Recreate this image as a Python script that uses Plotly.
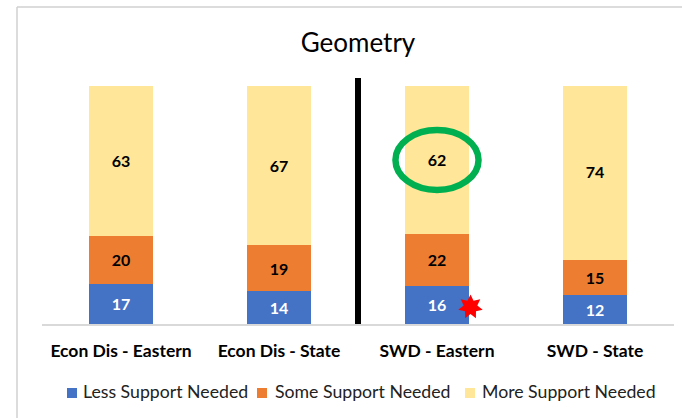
import numpy as np
import plotly.graph_objects as go

categories = ["Econ Dis - Eastern", "Econ Dis - State", "SWD - Eastern", "SWD - State"]
less_support = [17, 14, 16, 12]
some_support = [20, 19, 22, 15]
more_support = [63, 67, 62, 74]

series_names = ["Less Support Needed", "Some Support Needed", "More Support Needed"]
series_colors = ["#4472C4", "#ED7D31", "#FFE699"]
label_colors = ["white", "black", "black"]
series_values = [less_support, some_support, more_support]

FONT = "Lato"

# plot-area pixel geometry (for decorations only)
PL, PB, PW, PH = 42.0, 324.0, 632.0, 238.0


def px2paper(x, y):
    return (x - PL) / PW, (PB - y) / PH


fig = go.Figure()
for name, vals, color, tcolor in zip(series_names, series_values, series_colors, label_colors):
    fig.add_trace(go.Bar(
        x=categories, y=vals, name=name,
        marker=dict(color=color, line=dict(width=0)),
        width=0.4,
        text=vals, textposition="inside", insidetextanchor="middle",
        textangle=0,
        textfont=dict(family=FONT, size=16, color=tcolor, weight="bold"),
        showlegend=False,
        hoverinfo="skip",
    ))

# 7-pointed star decoration
scx, scy = px2paper(470.5, 307)
ro, ri = 12.5, 7.0
pts = []
for k in range(14):
    ang = np.pi / 2 + k * np.pi / 7
    r = ro if k % 2 == 0 else ri
    pts.append((scx + r * np.cos(ang) / PW, scy + r * np.sin(ang) / PH))
star_path = "M " + " L ".join(f"{x:.5f},{y:.5f}" for x, y in pts) + " Z"

fx, fy = px2paper(17, 7)
shapes = [
    dict(type="line", xref="paper", yref="paper", x0=fx, x1=1.2, y0=fy, y1=fy,
         line=dict(color="#D0D0D0", width=1.5)),
    dict(type="line", xref="paper", yref="paper", x0=fx, x1=fx, y0=fy, y1=-0.6,
         line=dict(color="#D0D0D0", width=1.5)),
    dict(type="line", xref="paper", yref="paper", x0=0.5, x1=0.5,
         y0=0, y1=px2paper(0, 78)[1], line=dict(color="black", width=6)),
    dict(type="circle", xref="x", yref="y", x0=2 - 0.263, x1=2 + 0.263,
         y0=56.3, y1=81.5, line=dict(color="#00B050", width=6.5)),
    dict(type="path", xref="paper", yref="paper", path=star_path,
         fillcolor="#FF0000", line=dict(color="#FF0000", width=0)),
]

# custom legend (squares + labels)
annotations = []
sq_left = [67, 257, 465]
txt_left = [81, 273, 480]
for name, color, sx, tx in zip(series_names, series_colors, sq_left, txt_left):
    x0, y0 = px2paper(sx, 398)
    x1, y1 = px2paper(sx + 10, 388)
    shapes.append(dict(type="rect", xref="paper", yref="paper", x0=x0, x1=x1, y0=y0, y1=y1,
                       fillcolor=color, line=dict(width=0)))
    ax, ay = px2paper(tx, 392)
    annotations.append(dict(text=name, xref="paper", yref="paper", x=ax, y=ay,
                            xanchor="left", yanchor="middle", showarrow=False,
                            font=dict(family=FONT, size=17.7, color="#222222")))

fig.update_layout(
    barmode="stack",
    width=682, height=418,
    margin=dict(l=42, r=8, t=86, b=94),
    paper_bgcolor="white", plot_bgcolor="white",
    font=dict(family=FONT, color="black"),
    title=dict(text="Geometry", x=0.5, xref="paper", xanchor="center",
               y=1 - 43 / 418, yanchor="middle",
               font=dict(family=FONT, size=26, color="black")),
    xaxis=dict(type="category", range=[-0.5, 3.5], showline=True, linecolor="#D9D9D9",
               linewidth=1.5, ticks="", showgrid=False, zeroline=False,
               tickfont=dict(family=FONT, size=17.5, color="black", weight="bold"),
               ticklabelstandoff=10, fixedrange=True),
    yaxis=dict(range=[0, 100], visible=False, showgrid=False, zeroline=False,
               fixedrange=True),
    showlegend=False,
    hovermode=False,
    shapes=shapes,
    annotations=annotations,
)

fig.write_html("out.html",
               config={"displayModeBar": False},
               post_script="document.body.style.margin='0';document.body.style.padding='0';")
